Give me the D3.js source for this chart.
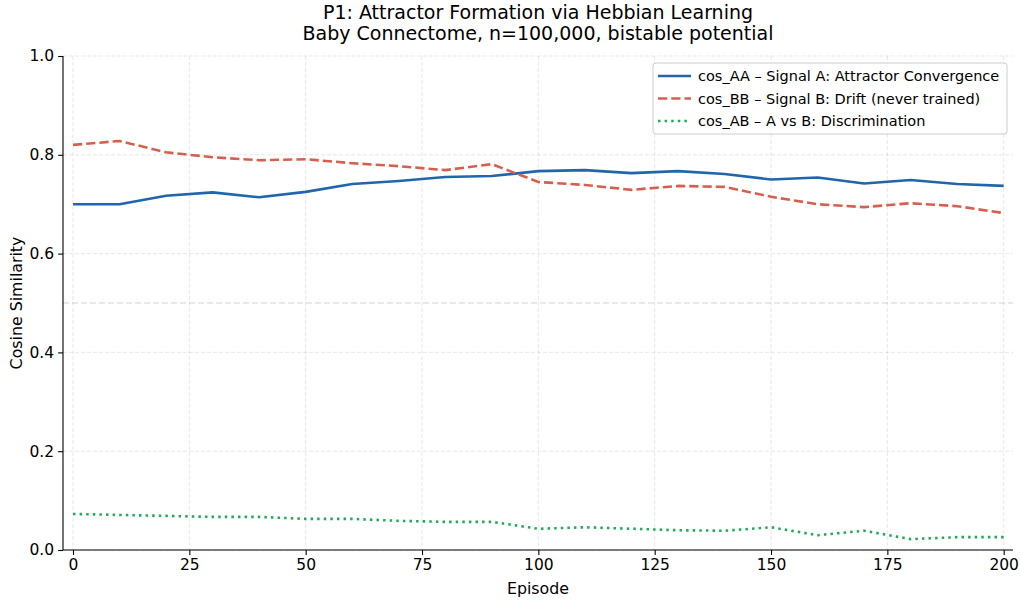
<!DOCTYPE html>
<html>
<head>
<meta charset="utf-8">
<script src="https://cdn.jsdelivr.net/npm/d3@7"></script>
<style>
  body { margin: 0; background: #fff; }
  text { font-family: "DejaVu Sans", sans-serif; fill: #000; }
</style>
</head>
<body>
<div id="main"></div>
<script>
// data
var episodes = [0, 10, 20, 30, 40, 50, 60, 70, 80, 90, 100, 110, 120, 130, 140, 150, 160, 170, 180, 190, 200];
var cosAA = [0.700, 0.700, 0.717, 0.724, 0.714, 0.725, 0.741, 0.747, 0.755, 0.757, 0.767, 0.769, 0.763, 0.767, 0.761, 0.750, 0.754, 0.742, 0.749, 0.741, 0.737];
var cosBB = [0.820, 0.828, 0.805, 0.795, 0.789, 0.791, 0.783, 0.777, 0.769, 0.781, 0.745, 0.739, 0.729, 0.737, 0.735, 0.715, 0.700, 0.694, 0.702, 0.696, 0.682];
var cosAB = [0.073, 0.071, 0.069, 0.067, 0.067, 0.063, 0.063, 0.059, 0.057, 0.057, 0.043, 0.046, 0.043, 0.040, 0.039, 0.046, 0.030, 0.039, 0.022, 0.026, 0.026];
var xTicks = [0, 25, 50, 75, 100, 125, 150, 175, 200];
var yTicks = [0.0, 0.2, 0.4, 0.6, 0.8, 1.0];
var seriesNames = ["cos_AA \u2013 Signal A: Attractor Convergence",
                   "cos_BB \u2013 Signal B: Drift (never trained)",
                   "cos_AB \u2013 A vs B: Discrimination"];

var W = 1021, H = 600;
var margin = { top: 56, right: 8, bottom: 50, left: 63 },
  width = W - margin.left - margin.right,
  height = H - margin.top - margin.bottom;

var series = [
  { name: seriesNames[0], values: cosAA, color: "#2166ac", dash: null },
  { name: seriesNames[1], values: cosBB, color: "#d6604d", dash: "9.25,4" },
  { name: seriesNames[2], values: cosAB, color: "#22aa5a", dash: "2.5,4.1" }
];

var x = d3.scaleLinear().domain([-2.15, 202]).range([0, width]);
var y = d3.scaleLinear().domain([0, 1]).range([height, 0]);

var svg = d3.select("#main").append("svg")
  .attr("width", W)
  .attr("height", H);

var g = svg.append("g")
  .attr("transform", "translate(" + margin.left + "," + margin.top + ")");

// grid
g.append("g").selectAll("line")
  .data(xTicks)
  .enter().append("line")
  .attr("x1", function (d) { return x(d); })
  .attr("x2", function (d) { return x(d); })
  .attr("y1", 0).attr("y2", height)
  .attr("stroke", "#b0b0b0").attr("stroke-opacity", 0.3)
  .attr("stroke-width", 1).attr("stroke-dasharray", "4,2");

g.append("g").selectAll("line")
  .data(yTicks)
  .enter().append("line")
  .attr("x1", 0).attr("x2", width)
  .attr("y1", function (d) { return y(d); })
  .attr("y2", function (d) { return y(d); })
  .attr("stroke", "#b0b0b0").attr("stroke-opacity", 0.3)
  .attr("stroke-width", 1).attr("stroke-dasharray", "4,2");

// reference line at 0.5
g.append("line")
  .attr("x1", 0).attr("x2", width)
  .attr("y1", y(0.5)).attr("y2", y(0.5))
  .attr("stroke", "#808080").attr("stroke-opacity", 0.35)
  .attr("stroke-width", 1.2).attr("stroke-dasharray", "6,3");

// lines
var line = d3.line()
  .x(function (d, i) { return x(episodes[i]); })
  .y(function (d) { return y(d); });

series.forEach(function (s) {
  g.append("path")
    .datum(s.values)
    .attr("fill", "none")
    .attr("stroke", s.color)
    .attr("stroke-width", 2.6)
    .attr("stroke-dasharray", s.dash)
    .attr("stroke-linejoin", "round")
    .attr("d", line);
});

// axes
var xAxis = g.append("g")
  .attr("transform", "translate(0," + height + ")")
  .call(d3.axisBottom(x).tickValues(xTicks).tickSize(4.9).tickPadding(4));
var yAxis = g.append("g")
  .call(d3.axisLeft(y).tickValues(yTicks).tickFormat(d3.format(".1f")).tickSize(4.9).tickPadding(4));

[xAxis, yAxis].forEach(function (a) {
  a.select(".domain").attr("stroke", "#000").attr("stroke-width", 1.1);
  a.selectAll(".tick line").attr("stroke", "#000").attr("stroke-width", 1.1);
  a.selectAll(".tick text").style("font-family", "DejaVu Sans").style("font-size", "15.5px").attr("fill", "#000");
});
xAxis.select(".domain").attr("d", "M0,0H" + width);
yAxis.select(".domain").attr("d", "M0," + height + "V0");

// labels
svg.append("text")
  .attr("x", margin.left + width / 2)
  .attr("y", 594)
  .attr("text-anchor", "middle")
  .style("font-size", "15.8px")
  .text("Episode");

svg.append("text")
  .attr("transform", "translate(22," + (margin.top + height / 2) + ") rotate(-90)")
  .attr("text-anchor", "middle")
  .style("font-size", "15.8px")
  .text("Cosine Similarity");

svg.append("text")
  .attr("x", margin.left + width / 2)
  .attr("y", 19)
  .attr("text-anchor", "middle")
  .style("font-size", "19px")
  .text("P1: Attractor Formation via Hebbian Learning");
svg.append("text")
  .attr("x", margin.left + width / 2)
  .attr("y", 40)
  .attr("text-anchor", "middle")
  .style("font-size", "19px")
  .text("Baby Connectome, n=100,000, bistable potential");

// legend
var legend = svg.append("g").attr("transform", "translate(653,63)");
legend.append("rect")
  .attr("width", 354).attr("height", 71)
  .attr("rx", 3)
  .attr("fill", "#fff").attr("fill-opacity", 0.8)
  .attr("stroke", "#ccc").attr("stroke-width", 1);

var item = legend.selectAll(".item")
  .data(series)
  .enter().append("g")
  .attr("class", "item")
  .attr("transform", function (d, i) { return "translate(0," + (13 + i * 22.5) + ")"; });

item.append("line")
  .attr("x1", 5).attr("x2", 38)
  .attr("stroke", function (d) { return d.color; })
  .attr("stroke-width", 2.6)
  .attr("stroke-dasharray", function (d) { return d.dash; });

item.append("text")
  .attr("x", 45)
  .attr("dy", "0.35em")
  .style("font-size", "14.5px")
  .text(function (d) { return d.name; });
</script>
</body>
</html>
